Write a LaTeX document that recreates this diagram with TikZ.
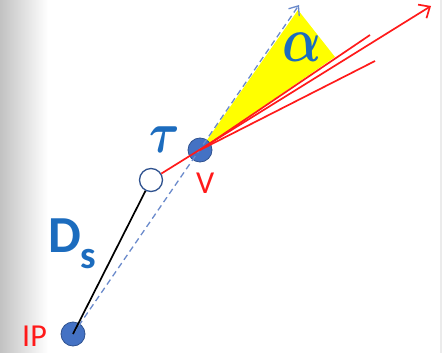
\RequirePackage{fix-cm}
\documentclass[tikz,border=0pt]{standalone}
\usepackage{fontspec}
\usepackage{amsmath}
\usepackage{bm}
\usepackage{graphicx}
\usetikzlibrary{arrows.meta}
\newfontfamily\calib{Carlito}
\definecolor{dotblue}{HTML}{4472C4}
\definecolor{dotedge}{HTML}{2F528F}
\definecolor{txtblue}{RGB}{28,108,190}
\definecolor{dashblue}{HTML}{6A8ACB}
\definecolor{redl}{HTML}{FF1A1A}
\definecolor{yel}{HTML}{FFFF00}
\tikzset{
  dot/.style={circle, fill=dotblue, draw=dotedge, line width=0.8pt, minimum size=24pt, inner sep=0pt},
  hollow/.style={circle, fill=white, draw=dotedge, line width=1.3pt, minimum size=23pt, inner sep=0pt},
  redline/.style={draw=redl, line width=1.7pt},
  dashline/.style={draw=dashblue, line width=1.3pt, dash pattern=on 6pt off 4pt},
  redlbl/.style={text=redl, font=\calib\fontsize{32}{32}\selectfont, inner sep=0pt},
  greek/.style={text=txtblue, inner sep=0pt},
}
\begin{document}
\begin{tikzpicture}[x=1pt,y=-1pt]
\useasboundingbox (0,0) rectangle (442,353);
\shade[left color=black!24, right color=white] (0,0) rectangle (48,353);
\fill[black!8] (440,0) rectangle (442,353);
% geometry
\coordinate (dtip) at (299,5);
\coordinate (rtip) at (431,6);
\coordinate (r1) at (370,35);
\coordinate (r2) at (375,61);
\coordinate (ycorner) at (335,57);
\coordinate (ytop) at (298,10);
% yellow cone
\fill[yel] (200,150) -- (ytop) -- (ycorner) -- cycle;
% nodes
\node[dot] (IP) at (73,334) {};
\node[dot] (V) at (200,150) {};
\node[hollow] (O) at (151,180) {};
% connectors
\draw[dashline, -{Straight Barb[length=8pt,width=13pt,line width=1.3pt]}] (IP.center) -- (dtip);
\draw[black, line width=1.7pt] (IP.center) -- (O);
\draw[redline, -{Straight Barb[length=9pt,width=16pt,line width=1.7pt]}] (O) -- (rtip);
\draw[redline] (V.center) -- (r1);
\draw[redline] (V.center) -- (r2);
% labels
\node[redlbl, anchor=base west] (IPl) at (22,346) {IP};
\node[redlbl, anchor=base west] (Vl) at (196,193) {V};
\node[text=txtblue, inner sep=0pt, anchor=base west, font=\calib\bfseries\fontsize{52}{52}\selectfont] (Ds) at (48,252) {D\raisebox{-16pt}{\fontsize{39}{39}\selectfont s}};
\node[greek] (tau) at (165,140) {\scalebox{0.8}[1]{\fontsize{58}{58}\selectfont$\bm{\tau}$}};
\node[greek] (alpha) at (302,47) {\scalebox{0.8}[1]{\fontsize{64}{64}\selectfont$\bm{\alpha}$}};
\end{tikzpicture}
\end{document}
